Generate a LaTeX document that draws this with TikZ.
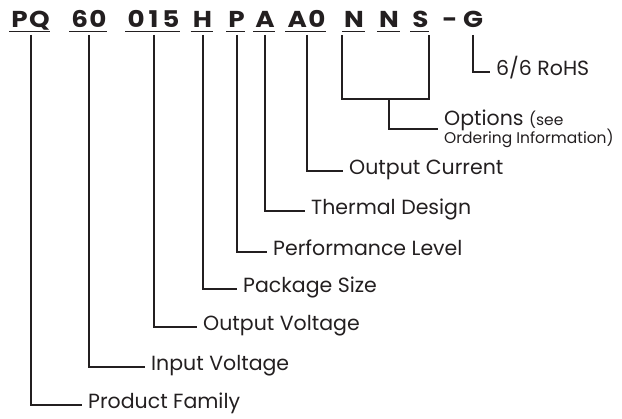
\documentclass[tikz,border=0pt]{standalone}
\usepackage{fontspec}
\setmainfont{Poppins}
\newfontfamily\codefont[Numbers=Monospaced, FakeStretch=1.14, LetterSpace=6]{Poppins}
\definecolor{ink}{HTML}{231F20}

\begin{document}
\begin{tikzpicture}[x=1pt, y=-1pt, ink,
  codeseg/.style={font=\codefont\bfseries\fontsize{23}{23}\selectfont, inner sep=0pt, anchor=base},
  partlbl/.style={font=\fontsize{20.5}{22}\selectfont, anchor=west, inner xsep=6pt, inner ysep=0pt, text height=7pt, text depth=-7pt},
  uline/.style={line width=1.5pt},
  stem/.style={line width=2pt, line join=miter}]
  \useasboundingbox (0,0) rectangle (622,419);

  % part number, one node per field
  \node (pq)   [codeseg] at (30.5,28) {PQ};
  \node (v60)  [codeseg] at (89,28)   {60};
  \node (v015) [codeseg] at (153.5,28) {0\kern4pt1\kern4pt5};
  \node (h)    [codeseg] at (202.5,28) {H};
  \node (p)    [codeseg] at (236.5,28) {P};
  \node (a)    [codeseg] at (265,28)  {A};
  \node (a0)   [codeseg] at (306.5,28) {A0};
  \node (n1)   [codeseg] at (354,28)  {N};
  \node (n2)   [codeseg] at (389,28)  {N};
  \node (s)    [codeseg] at (420.5,28) {S};
  \node (hyph) [codeseg] at (450,28)  {-};
  \node (g)    [codeseg] at (473,28)  {G};

  \foreach \n in {pq,v60,v015,h,p,a,a0,n1,n2,s}
    \draw[uline] ([xshift=-2pt,yshift=-3.5pt]\n.base west) -- ([xshift=0.5pt,yshift=-3.5pt]\n.base east);

  % field descriptions
  \node (pqlbl)   [partlbl] at (82,405)  {Product Family};
  \node (v60lbl)  [partlbl] at (145,367) {Input Voltage};
  \node (v015lbl) [partlbl] at (197,327) {Output Voltage};
  \node (hlbl)    [partlbl] at (237,289) {Package Size};
  \node (plbl)    [partlbl] at (267,252) {Performance Level};
  \node (albl)    [partlbl] at (305,211) {Thermal Design};
  \node (a0lbl)   [partlbl] at (343,171) {Output Current};
  \node (glbl)    [partlbl] at (490,72)  {6/6 RoHS};
  \node (optlbl)  [partlbl, align=left, text height=, text depth=] at (438,129)
    {Options {\fontsize{15.5}{16}\selectfont (see}\\[-4pt]{\fontsize{15.5}{16}\selectfont Ordering Information)}};

  \coordinate (optjoin) at ([yshift=-71pt]n2.base);

  \foreach \n in {pq,v60,v015,h,p,a,a0,g}
    \draw[stem] ([yshift=-7pt]\n.base) |- (\n lbl.west);
  \draw[stem] ([xshift=-2pt,yshift=-7pt]n1.base west) |- (optjoin) -| ([yshift=-7pt]s.base east);
  \draw[stem] (optjoin) |- (optlbl.west);
\end{tikzpicture}
\end{document}
